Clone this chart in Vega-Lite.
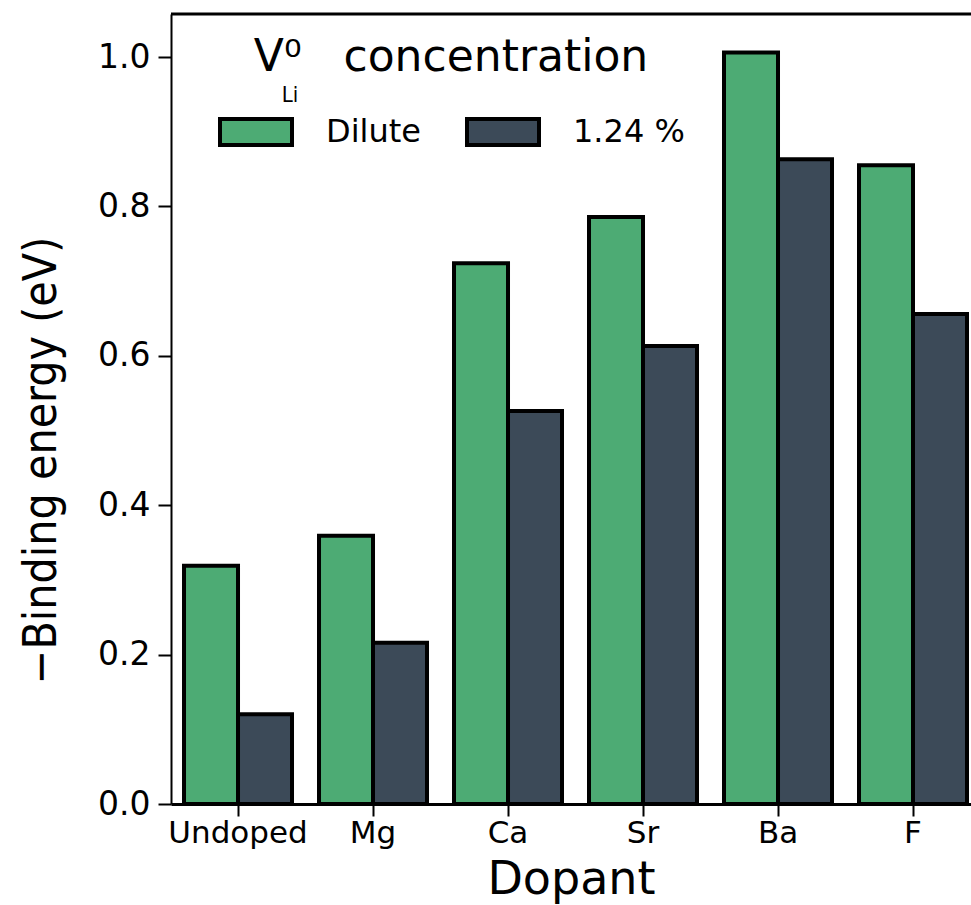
{
  "$schema": "https://vega.github.io/schema/vega-lite/v6.json",
  "autosize": "none",
  "width": 800,
  "height": 790,
  "padding": {"left": 171, "top": 14, "right": 0, "bottom": 101},
  "background": "white",
  "config": {
    "view": {"stroke": null},
    "font": "DejaVu Sans"
  },
  "layer": [
    {
      "data": {
        "values": [
          {"dopant": "Undoped", "series": "Dilute", "energy": 0.319},
          {"dopant": "Undoped", "series": "1.24 %", "energy": 0.12},
          {"dopant": "Mg", "series": "Dilute", "energy": 0.359},
          {"dopant": "Mg", "series": "1.24 %", "energy": 0.216},
          {"dopant": "Ca", "series": "Dilute", "energy": 0.724},
          {"dopant": "Ca", "series": "1.24 %", "energy": 0.526},
          {"dopant": "Sr", "series": "Dilute", "energy": 0.786},
          {"dopant": "Sr", "series": "1.24 %", "energy": 0.613},
          {"dopant": "Ba", "series": "Dilute", "energy": 1.006},
          {"dopant": "Ba", "series": "1.24 %", "energy": 0.863},
          {"dopant": "F", "series": "Dilute", "energy": 0.855},
          {"dopant": "F", "series": "1.24 %", "energy": 0.656}
        ]
      },
      "mark": {"type": "bar", "stroke": "black", "strokeWidth": 4, "strokeJoin": "miter"},
      "encoding": {
        "x": {
          "field": "dopant",
          "type": "nominal",
          "sort": ["Undoped", "Mg", "Ca", "Sr", "Ba", "F"],
          "scale": {"paddingInner": 0.2, "paddingOuter": 0.063, "align": 0.765},
          "axis": {
            "title": "Dopant",
            "titleFont": "DejaVu Sans",
            "titleFontSize": 46,
            "titleFontWeight": "normal",
            "titleColor": "black",
            "titlePadding": 9,
            "labelFont": "DejaVu Sans",
            "labelFontSize": 31,
            "labelColor": "black",
            "labelAngle": 0,
            "labelPadding": 2,
            "tickSize": 12,
            "tickWidth": 2,
            "tickColor": "black",
            "domainColor": "black",
            "domainWidth": 3
          }
        },
        "xOffset": {"field": "series", "type": "nominal", "sort": ["Dilute", "1.24 %"]},
        "y": {
          "field": "energy",
          "type": "quantitative",
          "scale": {"domain": [0, 1.0576], "nice": false},
          "axis": {
            "title": "−Binding energy (eV)",
            "titleFont": "DejaVu Sans Condensed",
            "titleFontSize": 46,
            "titleFontWeight": "normal",
            "titleColor": "black",
            "titlePadding": 32,
            "titleY": 446,
            "values": [0, 0.2, 0.4, 0.6, 0.8, 1.0],
            "format": ".1f",
            "labelFont": "DejaVu Sans",
            "labelFontSize": 33,
            "labelColor": "black",
            "labelPadding": 8,
            "tickSize": 13,
            "tickWidth": 2,
            "tickColor": "black",
            "domainColor": "black",
            "domainWidth": 2,
            "grid": false
          }
        },
        "color": {
          "field": "series",
          "type": "nominal",
          "scale": {"domain": ["Dilute", "1.24 %"], "range": ["#4dab74", "#3c4a58"]},
          "legend": {
            "orient": "none",
            "legendX": 47,
            "legendY": 22,
            "direction": "horizontal",
            "title": "V⁰\u00a0\u00a0\u00a0concentration",
            "titleFont": "DejaVu Sans",
            "titleFontSize": 44,
            "titleFontWeight": "normal",
            "titleColor": "black",
            "titleAnchor": "middle",
            "titlePadding": 14,
            "titleLimit": 600,
            "labelFont": "DejaVu Sans",
            "labelFontSize": 32,
            "labelColor": "black",
            "labelOffset": 32,
            "labelLimit": 300,
            "columnPadding": 38,
            "symbolType": "M-1,-0.36H1V0.36H-1Z",
            "symbolSize": 5184,
            "symbolStrokeColor": "black",
            "symbolStrokeWidth": 4,
            "symbolOpacity": 1,
            "padding": 0
          }
        }
      }
    },
    {
      "data": {"values": [{"sub": "Li"}]},
      "mark": {"type": "text", "font": "DejaVu Sans Condensed", "fontSize": 22, "color": "black", "dx": 52, "baseline": "middle"},
      "encoding": {
        "x": {"datum": "Undoped"},
        "y": {"datum": 0.949},
        "text": {"field": "sub", "type": "nominal"}
      }
    },
    {
      "data": {"values": [{"edge": "top"}]},
      "mark": {"type": "rule", "strokeWidth": 3, "color": "black"},
      "encoding": {"y": {"datum": 1.0576}}
    }
  ]
}
